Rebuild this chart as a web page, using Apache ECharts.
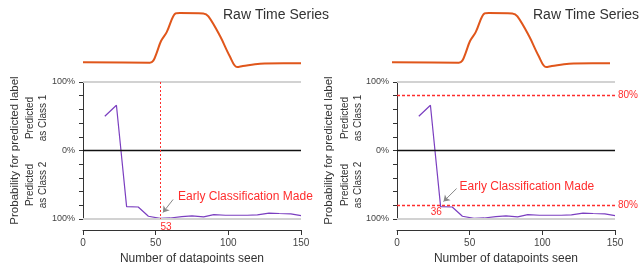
<!DOCTYPE html>
<html>
<head>
<meta charset="utf-8">
<script src="https://cdn.jsdelivr.net/npm/echarts@6/dist/echarts.min.js"></script>
<style>
  html, body { margin: 0; padding: 0; background: #fff; }
  #chart { width: 642px; height: 263px; }
</style>
</head>
<body>
<div id="chart"></div>
<script>
// raw time series (arbitrary units, 0 = baseline)
const rawX = [0, 46, 48.4, 50.7, 53.7, 57.6, 63.7, 66.7, 82.8, 86.3, 94.3, 101, 106, 110, 121.8, 138, 150];
const rawY = [0, -0.01, 0.03, 0.19, 0.43, 0.61, 0.99, 1.0, 0.99, 0.93, 0.53, 0.12, -0.10, -0.08, -0.03, -0.02, -0.02];

// predicted probability; positive = class 1, negative = class 2
const seen = [15, 23, 30, 38, 45, 53, 60, 68, 75, 83, 90, 98, 105, 113, 120, 128, 135, 143, 150];
const prob = [50, 66, -82, -82.5, -96, -99, -98.5, -96.5, -95.5, -97, -93.5, -94.5, -94.5, -94.5, -94, -91.5, -92, -92.5, -95];

const earlyLeft = 53;
const earlyRight = 36;
const threshold = 80;

const FONT = "Liberation Sans, Arial, sans-serif";
const RED = "#ff2d2d";
const ORANGE = "#e0561b";
const PURPLE = "#7b3fc0";

const chart = echarts.init(document.getElementById("chart"));

const rawData = rawX.map((x, i) => [x, rawY[i]]);
const probData = seen.map((x, i) => [x, prob[i]]);

function probYAxis(gridIndex) {
  return {
    gridIndex, type: "value", min: -100, max: 100, interval: 20,
    name: "Probability for predicted label", nameLocation: "middle", nameGap: 62,
    nameTextStyle: { fontFamily: FONT, fontSize: 11.5, color: "#333" },
    axisLine: { show: true, lineStyle: { color: "#333", width: 1 } },
    axisTick: { show: true, length: 4, lineStyle: { color: "#333" } },
    axisLabel: {
      fontFamily: FONT, fontSize: 9, color: "#444", margin: 8,
      formatter: v => v === 0 ? "0%" : (Math.abs(v) === 100 ? "100%" : "")
    },
    splitLine: { show: false }
  };
}

function probXAxis(gridIndex) {
  return {
    gridIndex, type: "value", min: 0, max: 150, interval: 50, offset: 11,
    name: "Number of datapoints seen", nameLocation: "middle", nameGap: 20,
    nameTextStyle: { fontFamily: FONT, fontSize: 12, color: "#333" },
    axisLine: { show: true, onZero: false, lineStyle: { color: "#333", width: 1 } },
    axisTick: { show: true, length: 5, lineStyle: { color: "#333" } },
    axisLabel: { fontFamily: FONT, fontSize: 10, color: "#444", margin: 8 },
    splitLine: { show: false }
  };
}

function rawAxes(gridIndex) {
  return {
    x: { gridIndex, type: "value", min: 0, max: 150, show: false },
    y: { gridIndex, type: "value", min: -0.2, max: 1.1, show: false }
  };
}

function hLine(y, color, width, type, label) {
  return [
    { coord: [0, y], lineStyle: { color, width, type, opacity: 1 },
      label: label ? { show: true, position: "end", formatter: label, color: RED, fontFamily: FONT, fontSize: 10, distance: 3 } : { show: false } },
    { coord: [150, y] }
  ];
}

const baseLines = () => [
  hLine(100, "#d2d2d2", 2, "solid"),
  hLine(-100, "#d2d2d2", 2, "solid"),
  hLine(0, "#111", 1.3, "solid")
];

function textPoint(coord, text, color, size, pos) {
  return {
    coord, symbol: "circle", symbolSize: 0.1,
    itemStyle: { color: "transparent" },
    label: { show: true, position: pos || "right", distance: 0, formatter: text, color, fontFamily: FONT, fontSize: size }
  };
}

function arrow(from, to) {
  return [
    { coord: from, symbol: "none", lineStyle: { color: "#888", width: 1, type: "solid" }, label: { show: false } },
    { coord: to, symbol: "arrow", symbolSize: 6 }
  ];
}

const rawL = rawAxes(0), rawR = rawAxes(2);
const predStyle = { fontFamily: FONT, fontSize: 10, lineHeight: 13, fill: "#333", align: "center", verticalAlign: "middle" };

const option = {
  animation: false,
  backgroundColor: "#fff",
  textStyle: { fontFamily: FONT },
  grid: [
    { left: 83, top: 8, width: 218, height: 64, outerBoundsMode: "none" },
    { left: 83, top: 82, width: 218, height: 137, outerBoundsMode: "none" },
    { left: 392, top: 8, width: 218, height: 64, outerBoundsMode: "none" },
    { left: 397, top: 82, width: 218, height: 137, outerBoundsMode: "none" }
  ],
  xAxis: [rawL.x, probXAxis(1), rawR.x, probXAxis(3)],
  yAxis: [rawL.y, probYAxis(1), rawR.y, probYAxis(3)],
  graphic: [
    { type: "text", left: 223, top: 8, style: { text: "Raw Time Series", fontFamily: FONT, fontSize: 14, fill: "#333" } },
    { type: "text", left: 533, top: 8, style: { text: "Raw Time Series", fontFamily: FONT, fontSize: 14, fill: "#333" } },
    { type: "text", x: 37, y: 118, rotation: Math.PI / 2, style: Object.assign({ text: "Predicted\nas Class 1" }, predStyle) },
    { type: "text", x: 37, y: 185, rotation: Math.PI / 2, style: Object.assign({ text: "Predicted\nas Class 2" }, predStyle) },
    { type: "text", x: 352, y: 118, rotation: Math.PI / 2, style: Object.assign({ text: "Predicted\nas Class 1" }, predStyle) },
    { type: "text", x: 352, y: 185, rotation: Math.PI / 2, style: Object.assign({ text: "Predicted\nas Class 2" }, predStyle) }
  ],
  series: [
    {
      type: "line", xAxisIndex: 0, yAxisIndex: 0, data: rawData, smooth: 0.35,
      showSymbol: false, lineStyle: { color: ORANGE, width: 2 }
    },
    {
      type: "line", xAxisIndex: 1, yAxisIndex: 1, data: probData, z: 3,
      showSymbol: false, lineStyle: { color: PURPLE, width: 1.2 },
      markLine: {
        silent: true, symbol: "none", label: { show: false },
        data: [
          ...baseLines(),
          [
            { coord: [earlyLeft, 100], lineStyle: { color: RED, width: 1, type: [2, 2] },
              label: { show: true, position: "end", formatter: String(earlyLeft), color: RED, fontFamily: FONT, fontSize: 10, distance: 3, offset: [6, 0] } },
            { coord: [earlyLeft, -100] }
          ],
          arrow([62, -71.5], [55, -90.5])
        ]
      },
      markPoint: {
        silent: true,
        data: [textPoint([65.4, -67], "Early Classification Made", RED, 12)]
      }
    },
    {
      type: "line", xAxisIndex: 2, yAxisIndex: 2, data: rawData, smooth: 0.35,
      showSymbol: false, lineStyle: { color: ORANGE, width: 2 }
    },
    {
      type: "line", xAxisIndex: 3, yAxisIndex: 3, data: probData, z: 3,
      showSymbol: false, lineStyle: { color: PURPLE, width: 1.2 },
      markLine: {
        silent: true, symbol: "none", label: { show: false },
        data: [
          ...baseLines(),
          hLine(threshold, RED, 1.3, [3, 2], threshold + "%"),
          hLine(-threshold, RED, 1.3, [3, 2], threshold + "%"),
          arrow([41, -55.5], [32, -74.5])
        ]
      },
      markPoint: {
        silent: true,
        data: [
          textPoint([43, -52.5], "Early Classification Made", RED, 12),
          textPoint([27, -89.5], String(earlyRight), RED, 10, "inside")
        ]
      }
    }
  ]
};

chart.setOption(option);
</script>
</body>
</html>
